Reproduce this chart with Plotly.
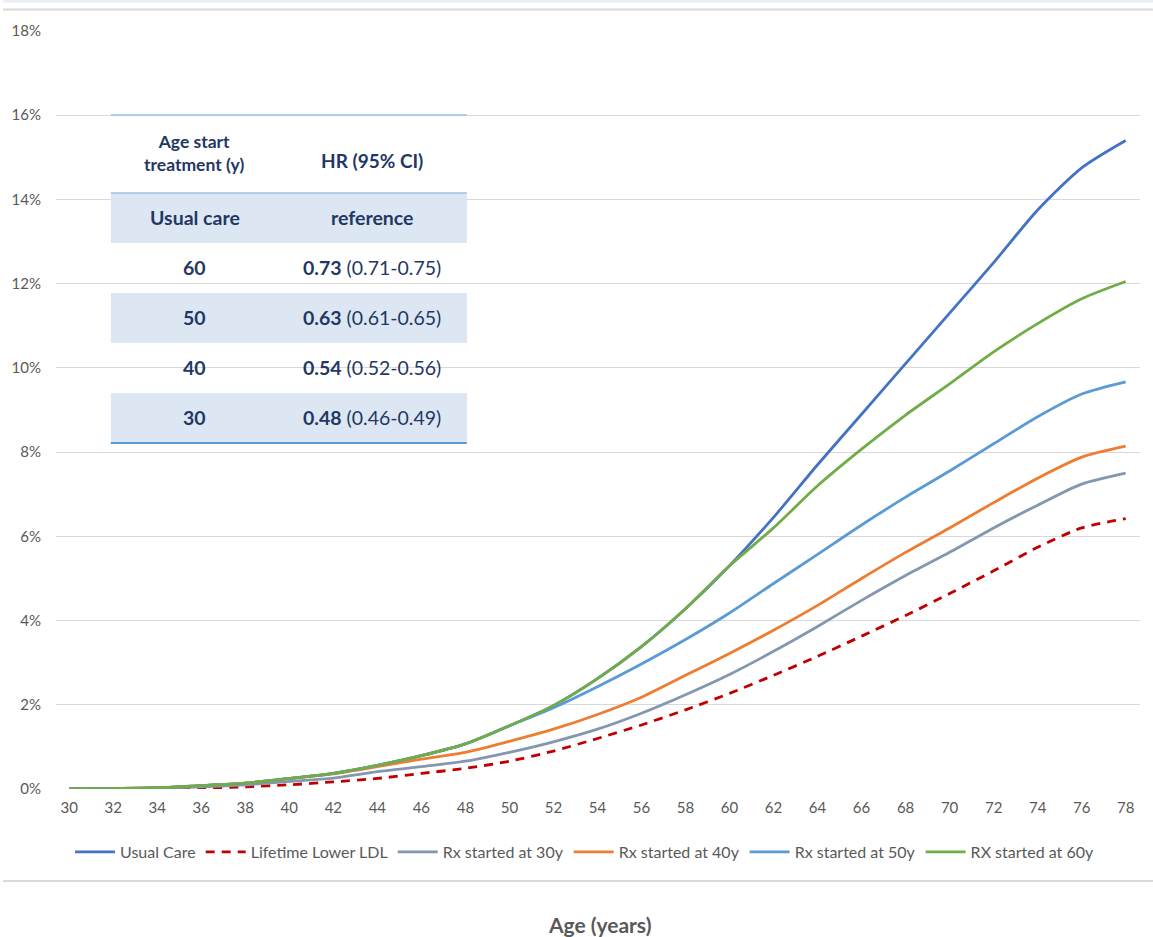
import plotly.graph_objects as go

# ---------------- data ----------------
ages = list(range(30, 79, 2))
x_tick_labels = [str(a) for a in ages]

usual_care = [0, 0.01, 0.03, 0.08, 0.14, 0.25, 0.37, 0.56, 0.79, 1.07, 1.5, 1.98, 2.62, 3.38, 4.28,
              5.3, 6.45, 7.7, 8.9, 10.1, 11.3, 12.5, 13.75, 14.75, 15.4]
lifetime_lower_ldl = [0, 0, 0, 0.02, 0.05, 0.1, 0.17, 0.25, 0.37, 0.49, 0.66, 0.9, 1.2, 1.52, 1.88,
                      2.27, 2.7, 3.15, 3.63, 4.12, 4.64, 5.18, 5.74, 6.2, 6.42]
rx_30 = [0, 0, 0.02, 0.05, 0.1, 0.18, 0.26, 0.41, 0.53, 0.66, 0.87, 1.12, 1.42, 1.8, 2.24,
         2.72, 3.27, 3.86, 4.48, 5.07, 5.62, 6.2, 6.74, 7.24, 7.5]
rx_40 = [0, 0.01, 0.03, 0.08, 0.14, 0.25, 0.36, 0.53, 0.71, 0.87, 1.13, 1.42, 1.77, 2.18, 2.7,
         3.22, 3.77, 4.36, 5.0, 5.62, 6.2, 6.8, 7.38, 7.88, 8.14]
rx_50 = [0, 0.01, 0.03, 0.08, 0.14, 0.25, 0.37, 0.56, 0.79, 1.07, 1.5, 1.93, 2.43, 2.97, 3.55,
         4.18, 4.88, 5.57, 6.27, 6.93, 7.55, 8.2, 8.84, 9.38, 9.67]
rx_60 = [0, 0.01, 0.03, 0.08, 0.14, 0.25, 0.37, 0.56, 0.79, 1.07, 1.5, 1.98, 2.62, 3.38, 4.28,
         5.3, 6.2, 7.2, 8.07, 8.88, 9.62, 10.38, 11.05, 11.64, 12.05]

series_names = ["Usual Care", "Lifetime Lower LDL", "Rx started at 30y",
                "Rx started at 40y", "Rx started at 50y", "RX started at 60y"]
series_values = [usual_care, lifetime_lower_ldl, rx_30, rx_40, rx_50, rx_60]
series_colors = ["#4472c4", "#c00000", "#8497b0", "#ed7d31", "#5b9bd5", "#70ad47"]
series_dash = ["solid", "9px,7px", "solid", "solid", "solid", "solid"]

y_tick_values = [0, 2, 4, 6, 8, 10, 12, 14, 16, 18]
y_tick_labels = [f"{v}%" for v in y_tick_values]

table_header_col1 = "Age start<br>treatment (y)"
table_header_col2 = "HR (95% CI)"
table_col1 = ["Usual care", "60", "50", "40", "30"]
table_hr = ["reference", "0.73", "0.63", "0.54", "0.48"]
table_ci = ["", "(0.71-0.75)", "(0.61-0.65)", "(0.52-0.56)", "(0.46-0.49)"]

# ---------------- layout geometry (pixels) ----------------
W, H = 1153, 937
PL, PR, PT, PB = 53, 1140, 31, 789


def pxx(px):
    return (px - PL) / (PR - PL)


def pxy(py):
    return (PB - py) / (PB - PT)


FONT = "Lato, 'Open Sans', sans-serif"
GRAY_TXT = "#595959"
NAVY = "#1f3864"

fig = go.Figure()
for name, vals, col, dash in zip(series_names, series_values, series_colors, series_dash):
    fig.add_trace(go.Scatter(
        x=ages, y=vals, name=name, mode="lines",
        line=dict(color=col, width=2.8, dash=dash, shape="spline", smoothing=0.7),
        hoverinfo="skip",
    ))

shapes = []
# top decorative band and line
shapes.append(dict(type="rect", xref="paper", yref="paper", x0=pxx(0), x1=pxx(W), y0=pxy(2.5), y1=pxy(-5),
                   fillcolor="#e6edf5", line=dict(width=0), layer="above"))
shapes.append(dict(type="line", xref="paper", yref="paper", x0=pxx(0), x1=pxx(W), y0=pxy(9.5), y1=pxy(9.5),
                   line=dict(color="#d9d9d9", width=2), layer="above"))
# bottom separator line
shapes.append(dict(type="line", xref="paper", yref="paper", x0=pxx(0), x1=pxx(W), y0=pxy(881), y1=pxy(881),
                   line=dict(color="#d9d9d9", width=2), layer="above"))

# table
TX0, TX1 = 108, 465
row_tops = [193, 243, 293, 343, 393]
row_h = 50
for i, top in enumerate(row_tops):
    if i % 2 == 0:
        shapes.append(dict(type="rect", xref="paper", yref="paper", x0=pxx(TX0), x1=pxx(TX1),
                           y0=pxy(top), y1=pxy(top + row_h), fillcolor="#dde7f3",
                           line=dict(width=0), layer="above"))
shapes.append(dict(type="line", xref="paper", yref="paper", x0=pxx(TX0), x1=pxx(TX1), y0=pxy(115), y1=pxy(115),
                   line=dict(color="#9dc3e6", width=1.5), layer="above"))
shapes.append(dict(type="line", xref="paper", yref="paper", x0=pxx(TX0), x1=pxx(TX1), y0=pxy(193), y1=pxy(193),
                   line=dict(color="#9dc3e6", width=1.5), layer="above"))
shapes.append(dict(type="line", xref="paper", yref="paper", x0=pxx(TX0), x1=pxx(TX1), y0=pxy(443), y1=pxy(443),
                   line=dict(color="#5b9bd5", width=2.2), layer="above"))

annotations = []
C1, C2 = 192, 370
TFS = 19.5
annotations.append(dict(xref="paper", yref="paper", x=pxx(C1), y=pxy(153), text="<b>" + table_header_col1 + "</b>",
                        showarrow=False, font=dict(family=FONT, size=17.5, color=NAVY),
                        xanchor="center", yanchor="middle"))
annotations.append(dict(xref="paper", yref="paper", x=pxx(C2), y=pxy(161), text="<b>" + table_header_col2 + "</b>",
                        showarrow=False, font=dict(family=FONT, size=TFS - 0.5, color=NAVY), xanchor="center",
                        yanchor="middle"))
for i, top in enumerate(row_tops):
    cy = top + row_h / 2 - 1
    annotations.append(dict(xref="paper", yref="paper", x=pxx(C1), y=pxy(cy), text="<b>" + table_col1[i] + "</b>",
                            showarrow=False, font=dict(family=FONT, size=TFS, color=NAVY), xanchor="center",
                            yanchor="middle"))
    txt = "<b>" + table_hr[i] + "</b>"
    if table_ci[i]:
        txt += " " + table_ci[i]
    annotations.append(dict(xref="paper", yref="paper", x=pxx(C2), y=pxy(cy), text=txt,
                            showarrow=False, font=dict(family=FONT, size=TFS, color=NAVY), xanchor="center",
                            yanchor="middle"))

# x-axis title
annotations.append(dict(xref="paper", yref="paper", x=pxx(598), y=pxy(924), text="<b>Age (years)</b>",
                        showarrow=False, font=dict(family=FONT, size=21, color=GRAY_TXT),
                        xanchor="center", yanchor="middle"))

fig.update_layout(
    width=W, height=H,
    margin=dict(l=PL, r=W - PR, t=PT, b=H - PB, pad=0),
    plot_bgcolor="white", paper_bgcolor="white",
    font=dict(family=FONT, color=GRAY_TXT),
    shapes=shapes, annotations=annotations,
    showlegend=True,
    legend=dict(orientation="h", x=pxx(583), xanchor="center", y=pxy(852), yanchor="middle",
                font=dict(family=FONT, size=16, color=GRAY_TXT), bgcolor="rgba(0,0,0,0)",
                itemwidth=40, tracegroupgap=0),
    xaxis=dict(range=[29.4, 78.65], tickmode="array", tickvals=ages, ticktext=x_tick_labels,
               showgrid=False, zeroline=False, showline=False, ticks="",
               tickfont=dict(family=FONT, size=15, color=GRAY_TXT), ticklabelstandoff=8,
               fixedrange=True),
    yaxis=dict(range=[0, 18], tickmode="array", tickvals=y_tick_values, ticktext=y_tick_labels,
               showgrid=True, gridcolor="#d9d9d9", gridwidth=1.3, zeroline=False, showline=False, ticks="",
               tickfont=dict(family=FONT, size=15, color=GRAY_TXT), ticklabelstandoff=14,
               fixedrange=True),
)

fig.write_html("out.html", post_script="document.body.style.margin='0';",
               config={"displayModeBar": False})
